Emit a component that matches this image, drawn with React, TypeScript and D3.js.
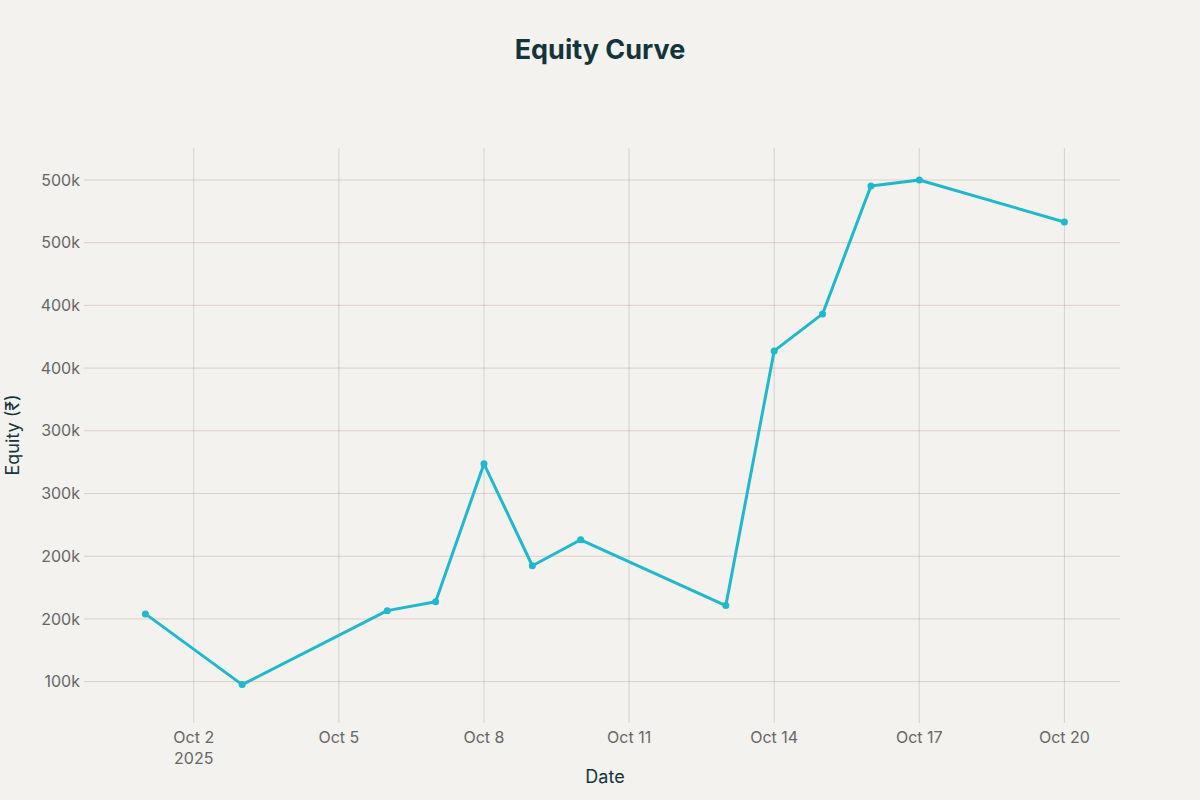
import React from "react";
import * as d3 from "d3";

const dates = ["2025-10-01","2025-10-03","2025-10-06","2025-10-07","2025-10-08","2025-10-09","2025-10-10","2025-10-13","2025-10-14","2025-10-15","2025-10-16","2025-10-17","2025-10-20"];
const equity = [154000, 97600, 156600, 163700, 273700, 192400, 213100, 160600, 363700, 393200, 495200, 500000, 466500];
const yTicks = [100000, 150000, 200000, 250000, 300000, 350000, 400000, 450000, 500000];
const xTickDates = ["2025-10-02","2025-10-05","2025-10-08","2025-10-11","2025-10-14","2025-10-17","2025-10-20"];

const W = 1200, H = 800;
const left = 84, right = 1120, top = 148, bottom = 723;

export default function App() {
  const parse = d3.utcParse("%Y-%m-%d");
  const day = 86400000;
  const d0 = parse("2025-10-01")!.getTime();
  const x = d3.scaleUtc()
    .domain([new Date(d0 - 1.27 * day), new Date(parse("2025-10-20")!.getTime() + 1.15 * day)])
    .range([left, right]);
  const y = d3.scaleLinear().domain([67000, 525500]).range([bottom, top]);
  const fmt = d3.format(".1s");
  const pts = dates.map((d, i) => [x(parse(d)!), y(equity[i])] as [number, number]);
  const line = d3.line()(pts) || "";
  const font = "Inter, 'Open Sans', sans-serif";
  const grid = "rgba(180,120,120,0.3)";
  const tickColor = "#666";
  return (
    <svg width={W} height={H} style={{ position: "absolute", left: 0, top: 0, background: "#f3f2ee" }} fontFamily={font}>
      <rect width={W} height={H} fill="#f3f2ee" />
      <text x={600} y={59} textAnchor="middle" fontSize={27} fontWeight={700} fill="#13343B">Equity Curve</text>
      {xTickDates.map((d) => {
        const px = x(parse(d)!);
        return <line key={"vx" + d} x1={px} x2={px} y1={top} y2={bottom} stroke="rgba(140,140,140,0.3)" strokeWidth={1} />;
      })}
      {yTicks.map((t) => (
        <line key={"gy" + t} x1={left} x2={right} y1={y(t)} y2={y(t)} stroke={grid} strokeWidth={1} />
      ))}
      {yTicks.map((t) => (
        <text key={"ty" + t} x={80} y={y(t)} dy="0.35em" textAnchor="end" fontSize={16} fill={tickColor}>{fmt(t)}</text>
      ))}
      {xTickDates.map((d, i) => {
        const dt = parse(d)!;
        const px = x(dt);
        return (
          <g key={"tx" + d}>
            <text x={px} y={743} textAnchor="middle" fontSize={16} fill={tickColor}>{d3.utcFormat("%b %-d")(dt)}</text>
            {i === 0 && <text x={px} y={764} textAnchor="middle" fontSize={16} fill={tickColor}>2025</text>}
          </g>
        );
      })}
      <path d={line} fill="none" stroke="#1FB8CD" strokeWidth={3} strokeLinejoin="round" />
      {pts.map((p, i) => <circle key={"p" + i} cx={p[0]} cy={p[1]} r={3.5} fill="#1FB8CD" />)}
      <text x={605} y={783} textAnchor="middle" fontSize={18} fill="#13343B">Date</text>
      <text transform={`translate(19,435) rotate(-90)`} textAnchor="middle" fontSize={18} fill="#13343B">Equity (₹)</text>
    </svg>
  );
}
